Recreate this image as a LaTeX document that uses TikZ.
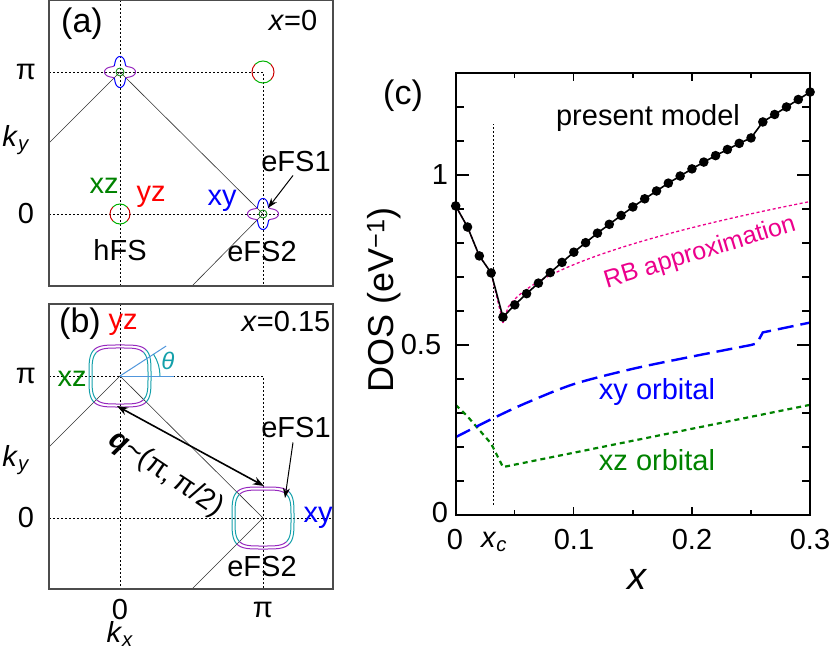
\documentclass[tikz,border=0pt]{standalone}
\usepackage{fontspec}
\setmainfont{Liberation Sans}
\usetikzlibrary{arrows.meta}
\definecolor{fsgreen}{RGB}{0,130,0}
\definecolor{fsteal}{RGB}{20,160,170}
\definecolor{fspurple}{RGB}{150,40,190}
\definecolor{thcol}{RGB}{80,150,220}
\tikzset{
  lab/.style={font=\fontsize{29}{31}\selectfont, inner sep=0pt},
  frame/.style={draw=black!70, line width=1.2pt},
  grid/.style={black, dash pattern=on 2pt off 2pt, line width=0.7pt},
  bz/.style={black!80, line width=0.6pt},
  tick/.style={black, line width=1.2pt},
}
\begin{document}
\begin{tikzpicture}[x=1pt,y=-1pt]
\useasboundingbox (0,0) rectangle (830,652);
% ---------------- panel (a)
\coordinate (aG) at (120,214); \coordinate (aY) at (120,72);
\coordinate (aM) at (263,72); \coordinate (aX) at (263,214);
\draw[grid] (49,72) -- (aM) -- (263,286);
\draw[grid] (49,214) -- (333,214);
\draw[grid] (120,0) -- (120,286);
\draw[bz] (49,143) -- (aY) -- (aX) -- (192,286);
% star FS
\foreach \c in {aY,aX}{
  \begin{scope}[shift={(\c)}]
  \draw[blue, line width=1pt, domain=45:135, samples=40] plot ({(12+3.5*cos(4*\x))*cos(\x)},{(12+3.5*cos(4*\x))*sin(\x)});
  \draw[blue, line width=1pt, domain=225:315, samples=40] plot ({(12+3.5*cos(4*\x))*cos(\x)},{(12+3.5*cos(4*\x))*sin(\x)});
  \draw[fspurple, line width=1pt, domain=-45:45, samples=40] plot ({(12+3.5*cos(4*\x))*cos(\x)},{(12+3.5*cos(4*\x))*sin(\x)});
  \draw[fspurple, line width=1pt, domain=135:225, samples=40] plot ({(12+3.5*cos(4*\x))*cos(\x)},{(12+3.5*cos(4*\x))*sin(\x)});
  \draw[fsgreen, line width=0.8pt] (0,0) circle (4);
  \end{scope}}
\foreach \c/\r in {aG/10,aM/11}{
  \draw[red!80!black, line width=1pt] ([shift={(135:\r)}]\c) arc[start angle=135, end angle=225, radius=\r];
  \draw[red!80!black, line width=1pt] ([shift={(-45:\r)}]\c) arc[start angle=-45, end angle=45, radius=\r];
  \draw[green!70!black, line width=1pt] ([shift={(45:\r)}]\c) arc[start angle=45, end angle=135, radius=\r];
  \draw[green!70!black, line width=1pt] ([shift={(225:\r)}]\c) arc[start angle=225, end angle=315, radius=\r];
}
\draw[frame] (49,0) rectangle (333,286);
\node[lab, font=\fontsize{34}{36}\selectfont] (la) at (82,24) {(a)};
\node[lab] (xa) at (293,21) {\textit{x}=0};
\node[lab] (pia) at (26,72) {π};
\node[lab] (za) at (26,214) {0};
\node[lab] (kya) at (16,140) {\textit{k}\textsubscript{\textit{y}}};
\node[lab, text=fsgreen] (xza) at (104,186) {xz};
\node[lab, text=red] (yza) at (151,197) {yz};
\node[lab] (hfs) at (120,250) {hFS};
\node[lab, text=blue] (xya) at (222,201) {xy};
\node[lab] (e1a) at (296,162) {eFS1};
\node[lab] (e2a) at (262,252) {eFS2};
\draw[-{Stealth[length=10pt,width=7pt]}, line width=1pt] (e1a.south) ++(-3,3) -- (268,208);
% ---------------- panel (b)
\coordinate (bY) at (120,376); \coordinate (bX) at (263,518);
\draw[grid] (49,376) -- (263,376) -- (263,589);
\draw[grid] (49,518) -- (333,518);
\draw[grid] (120,304) -- (120,589);
\draw[bz] (49,447) -- (bY) -- (bX) -- (192,589);
\foreach \c in {bY,bX}{
  \foreach \rr in {28,31}{
   \begin{scope}[shift={(\c)}]
   \draw[fspurple, line width=1pt, domain=45:135, samples=40] plot ({\rr*abs(cos(\x))^(0.5)*sign(cos(\x))},{\rr*abs(sin(\x))^(0.5)*sign(sin(\x))});
   \draw[fspurple, line width=1pt, domain=225:315, samples=40] plot ({\rr*abs(cos(\x))^(0.5)*sign(cos(\x))},{\rr*abs(sin(\x))^(0.5)*sign(sin(\x))});
   \draw[fsteal, line width=1pt, domain=-45:45, samples=40] plot ({\rr*abs(cos(\x))^(0.5)*sign(cos(\x))},{\rr*abs(sin(\x))^(0.5)*sign(sin(\x))});
   \draw[fsteal, line width=1pt, domain=135:225, samples=40] plot ({\rr*abs(cos(\x))^(0.5)*sign(cos(\x))},{\rr*abs(sin(\x))^(0.5)*sign(sin(\x))});
   \end{scope}}}
\draw[thcol, line width=1pt] (bY) -- ++(54,0);
\draw[thcol, line width=1pt] (bY) -- ++(-33:55);
\draw[fsteal, line width=1pt] ([shift={(0:40)}]bY) arc[start angle=0, end angle=-33, radius=40];
\node[lab, text=fsteal, font=\fontsize{24}{26}\selectfont\itshape] (th) at (168,361) {θ};
\draw[frame] (49,304) rectangle (333,589);
\coordinate (qa) at (117,406); \coordinate (qb) at (264,486);
\draw[{Stealth[length=11pt,width=8pt]}-{Stealth[length=11pt,width=8pt]}, line width=1.6pt] (qa) -- (qb);
\node[lab, rotate=-34] (ql) at (166,474) {\textbf{\textit{q}}\char`~(π,\,π/2)};
\node[lab, font=\fontsize{34}{36}\selectfont] (lb) at (80,324) {(b)};
\node[lab, text=red] (yzb) at (123,325) {yz};
\node[lab] (xb) at (286,322) {\textit{x}=0.15};
\node[lab, text=fsgreen] (xzb) at (72,379) {xz};
\node[lab] (pib) at (26,376) {π};
\node[lab] (zb) at (26,518) {0};
\node[lab] (kyb) at (16,460) {\textit{k}\textsubscript{\textit{y}}};
\node[lab] (e1b) at (296,428) {eFS1};
\node[lab, text=blue] (xyb) at (318,518) {xy};
\node[lab] (e2b) at (262,567) {eFS2};
\draw[-{Stealth[length=10pt,width=7pt]}, line width=1pt] (e1b.south) ++(-3,4) -- (285,498);
\node[lab] (kx0) at (120,610) {0};
\node[lab] (kxp) at (263,610) {π};
\node[lab] (kx) at (120,634) {\textit{k}\textsubscript{\textit{x}}};
% ---------------- panel (c)
\node[lab, font=\fontsize{34}{36}\selectfont] (lc) at (403,96) {(c)};
\node[lab, rotate=90, font=\fontsize{36}{38}\selectfont] (dos) at (384,300) {DOS (eV\textsuperscript{−1})};
\begin{scope}[shift={(455.7,515)}, x=1181.3pt, y=340pt]
  \foreach \t in {0.05,0.1,...,0.26}{
    \pgfmathsetmacro{\L}{mod(round(\t*100),10)==0 ? 0.025 : 0.015}
    \draw[tick] (\t,0) -- (\t,\L); \draw[tick] (\t,1.3) -- (\t,1.3-\L);}
  \foreach \v in {0.1,0.2,...,1.25}{
    \pgfmathsetmacro{\L}{mod(round(\v*10),5)==0 ? 0.011 : 0.007}
    \draw[tick] (0,\v) -- (\L,\v); \draw[tick] (0.3,\v) -- (0.3-\L,\v);}
  \draw[black, dash pattern=on 2pt off 2pt, line width=0.8pt] (0.0315,0.03) -- (0.0315,1.15);
  \draw[fsgreen, line width=2.2pt, dash pattern=on 5pt off 4pt]
    (0,0.324) -- (0.01,0.29) -- (0.03,0.21) -- (0.04,0.141) -- (0.3,0.324);
  \draw[blue, line width=2.4pt, dash pattern=on 16pt off 7pt]
    plot[smooth] coordinates {(0,0.229) (0.032,0.285) (0.06,0.33) (0.1,0.385) (0.15,0.43) (0.2,0.466) (0.25,0.50)} -- (0.255,0.505) -- (0.26,0.537) -- (0.3,0.566);
  \draw[magenta, line width=1.3pt, dash pattern=on 3pt off 2.5pt]
    (0,0.909) -- (0.01,0.847) -- (0.02,0.762) -- (0.03,0.712) -- (0.04,0.565);
  \draw[magenta, line width=1.3pt, dash pattern=on 3pt off 2.5pt, domain=0.04:0.3, samples=60]
    plot (\x,{0.565+0.7*sqrt(\x-0.04)});
  \draw[black, line width=1.6pt] plot coordinates {(0,0.909) (0.01,0.847) (0.02,0.762) (0.03,0.712) (0.04,0.582) (0.05,0.618) (0.06,0.651) (0.07,0.682) (0.08,0.713) (0.09,0.743) (0.10,0.773) (0.11,0.801) (0.12,0.829) (0.13,0.855) (0.14,0.881) (0.15,0.906) (0.16,0.930) (0.17,0.953) (0.18,0.976) (0.19,0.997) (0.20,1.018) (0.21,1.038) (0.22,1.057) (0.23,1.075) (0.24,1.093) (0.25,1.109) (0.26,1.156) (0.27,1.178) (0.28,1.200) (0.29,1.222) (0.30,1.244)};
  \foreach \a/\b in {0/0.909,0.01/0.847,0.02/0.762,0.03/0.712,0.04/0.582,0.05/0.618,0.06/0.651,0.07/0.682,0.08/0.713,0.09/0.743,0.10/0.773,0.11/0.801,0.12/0.829,0.13/0.855,0.14/0.881,0.15/0.906,0.16/0.930,0.17/0.953,0.18/0.976,0.19/0.997,0.20/1.018,0.21/1.038,0.22/1.057,0.23/1.075,0.24/1.093,0.25/1.109,0.26/1.156,0.27/1.178,0.28/1.200,0.29/1.222,0.30/1.244}
    \fill (\a,\b) circle (4.8pt);
  \draw[black, line width=1.6pt] (0,0) rectangle (0.3,1.3);
\end{scope}
\node[lab] (pm) at (648,118) {present model};
\node[lab, text=magenta, rotate=17, font=\fontsize{25}{27}\selectfont] (rb) at (700,253) {RB approximation};
\node[lab, text=blue] (xyo) at (657,392) {xy orbital};
\node[lab, text=fsgreen] (xzo) at (657,460) {xz orbital};
\node[lab] (y1) at (440,175) {1};
\node[lab] (y05) at (421,345) {0.5};
\node[lab] (y0) at (440,513) {0};
\node[lab] (t0) at (455,540) {0};
\node[lab] (txc) at (494,542) {\textit{x}\textsubscript{\textit{c}}};
\node[lab] (t1) at (574,540) {0.1};
\node[lab] (t2) at (692,540) {0.2};
\node[lab] (t3) at (810,540) {0.3};
\node[lab, font=\fontsize{38}{40}\selectfont\itshape] (xl) at (637,579) {x};
\end{tikzpicture}
\end{document}
